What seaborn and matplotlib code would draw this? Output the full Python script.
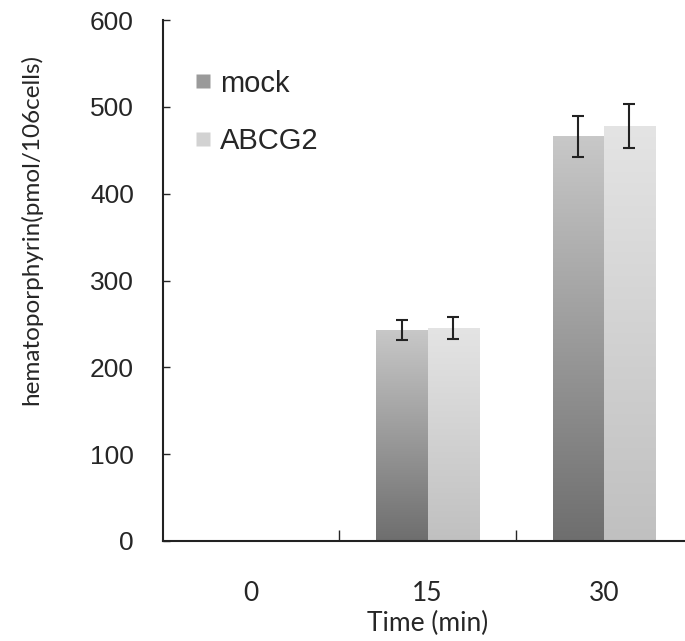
import numpy as np
import pandas as pd
import matplotlib
matplotlib.use("Agg")
import matplotlib.pyplot as plt
import seaborn as sns
from matplotlib.colors import LinearSegmentedColormap
from matplotlib.lines import Line2D

# data
times = ["0", "15", "30"]
groups = ["mock", "ABCG2"]
mock_vals = [0, 243, 466]
abcg2_vals = [0, 245, 478]
mock_err = [0, 12, 24]
abcg2_err = [0, 12.5, 25]

df = pd.DataFrame({
    "time": times * 2,
    "group": ["mock"] * 3 + ["ABCG2"] * 3,
    "value": mock_vals + abcg2_vals,
    "err": mock_err + abcg2_err,
})

sns.set_style("white")
plt.rcParams["font.family"] = ["Liberation Sans", "DejaVu Sans"]

fig = plt.figure(figsize=(6.85, 6.41), dpi=100)
ax = fig.add_axes([163 / 685, 1 - 541 / 641, (692 - 163) / 685, (541 - 20) / 641])

palette = {"mock": "#9a9a9a", "ABCG2": "#d2d2d2"}
sns.barplot(data=df, x="time", y="value", hue="group", order=times,
            hue_order=groups, palette=palette, width=0.58, ax=ax,
            errorbar=None, legend=False, linewidth=0)

# vertical gradient fill for each bar, clipped to the bar patch
grads = {
    "mock": LinearSegmentedColormap.from_list("m", ["#6e6e6e", "#c8c8c8"]),
    "ABCG2": LinearSegmentedColormap.from_list("a", ["#c0c0c0", "#e4e4e4"]),
}
grad_img = np.linspace(0, 1, 256).reshape(-1, 1)
bars = ax.patches
for i, bar in enumerate(bars):
    g = groups[i // len(times)]
    h = bar.get_height()
    if h <= 0:
        continue
    x0 = bar.get_x()
    w = bar.get_width()
    bar.set_facecolor("none")
    im = ax.imshow(grad_img, cmap=grads[g], origin="lower", aspect="auto",
                   extent=[x0, x0 + w, 0, h], zorder=bar.get_zorder())
    im.set_clip_path(bar)

# error bars
for i, bar in enumerate(bars):
    row = df.iloc[i]
    if row["value"] <= 0:
        continue
    ax.errorbar(bar.get_x() + bar.get_width() / 2, row["value"], yerr=row["err"],
                fmt="none", ecolor="#222222", elinewidth=1.5, capsize=4,
                capthick=1.5, zorder=5)

ax.set_xlim(-0.5, 2.5)
ax.set_ylim(0, 600)
ax.set_yticks(np.arange(0, 601, 100))
ax.tick_params(axis="y", direction="in", length=5, width=1, pad=21,
               labelsize=19, left=True)
ax.set_xticks([0.5, 1.5], minor=True)
ax.tick_params(axis="x", which="minor", direction="in", length=8, width=1,
               bottom=True)
ax.tick_params(axis="x", which="major", length=0, pad=29, labelsize=19)
for lbl in ax.get_xticklabels():
    lbl.set_family("Lato")

for s in ["top", "right"]:
    ax.spines[s].set_visible(False)
for s in ["left", "bottom"]:
    ax.spines[s].set_color("#222222")
    ax.spines[s].set_linewidth(1.5)

ax.set_xlabel("Time (min)", fontsize=19, family="Lato", labelpad=3.6)
ax.set_ylabel("hematoporphyrin(pmol/106cells)", fontsize=17.5, family="Lato")
ax.yaxis.set_label_coords(-0.229, 0.597)

handles = [Line2D([], [], marker="s", linestyle="none", markersize=10,
                  markerfacecolor=palette[g], markeredgecolor="none")
           for g in groups]
ax.legend(handles, groups, loc="upper left", bbox_to_anchor=(0.003, 0.955),
          frameon=False, fontsize=21, handletextpad=0.2, labelspacing=1.0,
          handlelength=0.8)

fig.savefig("out.png", dpi=100)
